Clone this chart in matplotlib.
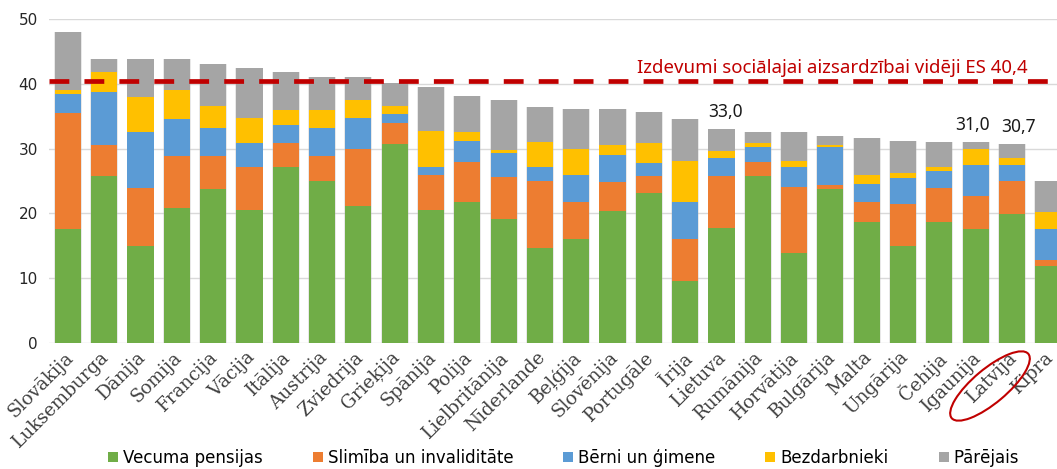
import numpy as np
import matplotlib.pyplot as plt
from matplotlib.patches import Ellipse
from matplotlib.transforms import IdentityTransform, ScaledTranslation

countries = ['Slovākija', 'Luksemburga', 'Dānija', 'Somija', 'Francija', 'Vācija',
             'Itālija', 'Austrija', 'Zviedrija', 'Grieķija', 'Spānija', 'Polija',
             'Lielbritānija', 'Nīderlande', 'Beļģija', 'Slovēnija', 'Portugāle',
             'Īrija', 'Lietuva', 'Rumānija', 'Horvātija', 'Bulgārija', 'Malta',
             'Ungārija', 'Čehija', 'Igaunija', 'Latvija', 'Kipra']

# izdevumi % no kopējiem, pa funkcijām
pensijas = [17.6, 25.7, 15.0, 20.9, 23.8, 20.5, 27.2, 25.0, 21.1, 30.7, 20.5, 21.8, 19.2, 14.7,
            16.0, 20.3, 23.1, 9.5, 17.7, 25.7, 13.8, 23.8, 18.6, 15.0, 18.7, 17.6, 19.9, 11.8]
slimiba = [17.9, 4.9, 8.9, 8.0, 5.0, 6.7, 3.6, 3.9, 8.9, 3.2, 5.4, 6.2, 6.4, 10.3,
           5.7, 4.6, 2.6, 6.5, 8.1, 2.3, 10.3, 0.6, 3.2, 6.4, 5.2, 5.1, 5.1, 1.0]
gimene = [3.0, 8.1, 8.6, 5.7, 4.4, 3.6, 2.8, 4.3, 4.8, 1.5, 1.3, 3.2, 3.7, 2.1,
          4.2, 4.1, 2.1, 5.7, 2.7, 2.3, 3.1, 5.9, 2.8, 4.0, 2.7, 4.7, 2.5, 4.8]
bezdarbs = [0.6, 3.2, 5.5, 4.4, 3.4, 4.0, 2.4, 2.8, 2.7, 1.2, 5.5, 1.4, 0.5, 4.0,
            4.0, 1.6, 3.0, 6.4, 1.1, 0.5, 0.9, 0.3, 1.3, 0.9, 0.6, 2.5, 1.0, 2.6]
parejais = [8.9, 1.9, 5.8, 4.8, 6.5, 7.6, 5.8, 5.1, 3.6, 3.6, 6.9, 5.5, 7.7, 5.4,
            6.3, 5.6, 4.9, 6.5, 3.4, 1.8, 4.4, 1.3, 5.8, 4.9, 3.9, 1.1, 2.2, 4.8]

series = ['Vecuma pensijas', 'Slimība un invaliditāte', 'Bērni un ģimene', 'Bezdarbnieki', 'Pārējais']
colors = ['#70AD47', '#ED7D31', '#5B9BD5', '#FFC000', '#A5A5A5']

es_avg = 40.4
# kopsummas virs stabiņiem (ar nelielu nobīdi pa x, kā oriģinālā)
labeled = {'Lietuva': ('33,0', 3), 'Igaunija': ('31,0', -2), 'Latvija': ('30,7', 5)}

fig = plt.figure(figsize=(10.57, 4.69), dpi=100)
ax = fig.add_axes([49 / 1057, (469 - 342.7) / 469, 1 - 49 / 1057, (342.7 - 19.3) / 469])

x = np.arange(len(countries))
bottom = np.zeros(len(countries))
for vals, name, c in zip([pensijas, slimiba, gimene, bezdarbs, parejais], series, colors):
    ax.bar(x, vals, 0.72, bottom=bottom, color=c, label=name, zorder=3)
    bottom += np.array(vals)
# viegla ēna ap stabiņiem
ax.bar(x, bottom, 0.77, color='#bfbfbf', alpha=0.35, lw=0, zorder=2)

ax.axhline(es_avg, color='#C00000', lw=3.4, ls=(0, (4.2, 3.2)), zorder=4)
ax.text(26.42, 41.7, 'Izdevumi sociālajai aizsardzībai vidēji ES 40,4',
        color='#C00000', fontsize=13.4, family='Noto Sans', ha='right', va='baseline')

for i, c in enumerate(countries):
    if c in labeled:
        txt, dx = labeled[c]
        ax.annotate(txt, (i, bottom[i]), xytext=(dx, 6), textcoords='offset points',
                    ha='center', va='bottom', fontsize=12.5, family='Noto Sans', color='#1a1a1a')

ax.set_xlim(-0.52, 27.24)
ax.set_ylim(0, 50)
ax.set_yticks(range(0, 51, 10))
ax.yaxis.grid(True, color='#D9D9D9', lw=1, zorder=0)
for s in ax.spines.values():
    s.set_visible(False)
ax.tick_params(length=0, labelsize=11, colors='#262626')
ax.tick_params(axis='y', pad=8)
ax.set_xticks(x)
ax.set_xticklabels(countries, rotation=45, ha='right', rotation_mode='anchor',
                   family='DejaVu Serif', fontsize=13.2, color='#404040')
ax.tick_params(axis='x', pad=4)
shift = ScaledTranslation(-4 / 100, 0, fig.dpi_scale_trans)
for lab in ax.get_xticklabels():
    lab.set_transform(lab.get_transform() + shift)

# aplis ap Latviju
fig.patches.append(Ellipse((990, 83), 100, 34, angle=40, fill=False, ec='#C00000', lw=1.5,
                           transform=IdentityTransform()))

fig.legend(loc='center', bbox_to_anchor=(0.533, 1 - 458 / 469), ncol=5, frameon=False,
           fontsize=12, handlelength=0.6, handleheight=0.6, handletextpad=0.3, columnspacing=3.0)

fig.savefig('out.png', dpi=100)
